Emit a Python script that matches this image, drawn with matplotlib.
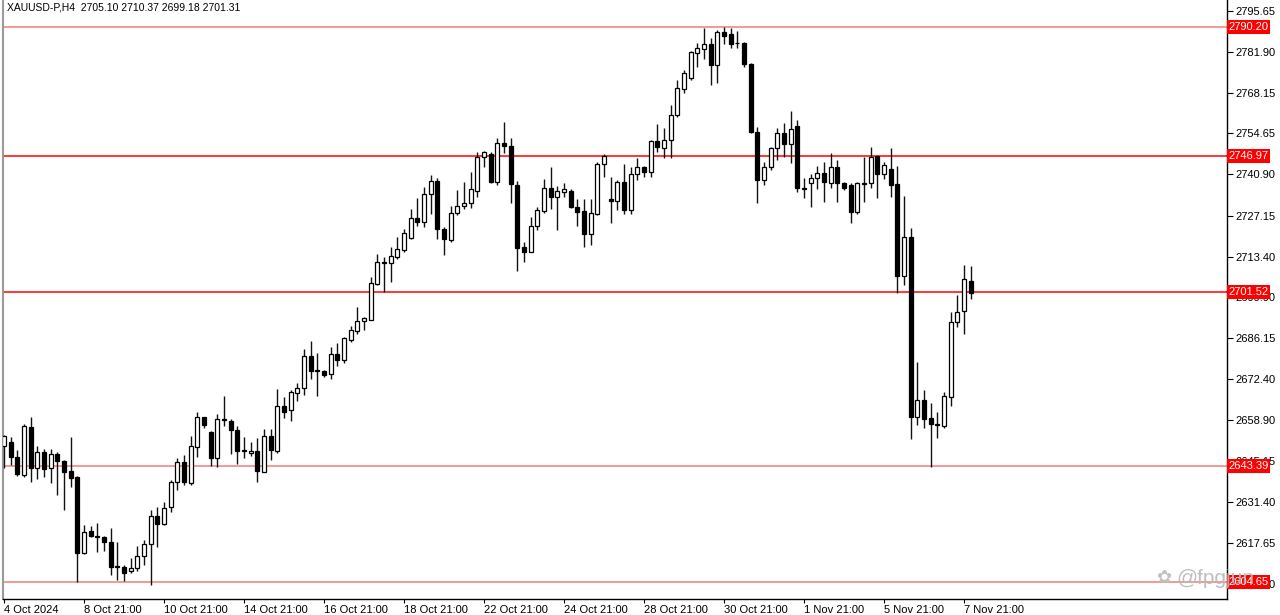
import numpy as np
import matplotlib
matplotlib.use('Agg')
import matplotlib.pyplot as plt
import matplotlib.transforms as mtransforms

plt.rcParams['font.family'] = ['Liberation Sans', 'DejaVu Sans']

# XAUUSD-P H4, OHLC
opens = [2650.1, 2651.3, 2646.3, 2640.4, 2656.6, 2642.6, 2648.0, 2642.6, 2647.4, 2645.2,
         2641.7, 2639.6, 2614.2, 2621.7, 2620.1, 2619.8, 2618.1, 2610.1, 2609.7, 2608.4,
         2609.2, 2613.3, 2617.2, 2626.8, 2624.0, 2629.6, 2637.9, 2644.8, 2637.8, 2649.9,
         2659.7, 2654.9, 2646.0, 2658.8, 2658.6, 2655.4, 2648.6, 2647.6, 2648.5, 2641.5,
         2653.5, 2648.4, 2663.6, 2662.1, 2667.9, 2669.4, 2680.2, 2675.4, 2675.2, 2674.0,
         2681.0, 2679.0, 2685.5, 2688.5, 2692.0, 2692.2, 2704.2, 2711.2, 2711.2, 2713.4,
         2715.6, 2719.7, 2726.2, 2724.9, 2734.4, 2738.8, 2722.6, 2719.0, 2727.9, 2730.4,
         2731.2, 2735.4, 2746.6, 2747.6, 2738.5, 2751.5, 2750.5, 2737.4, 2716.5, 2715.1,
         2723.8, 2728.7, 2736.5, 2733.5, 2735.1, 2735.5, 2729.9, 2728.7, 2721.0, 2727.5,
         2744.3, 2732.6, 2732.1, 2738.5, 2729.0, 2740.9, 2743.5, 2741.6, 2752.1, 2749.6,
         2752.4, 2760.8, 2769.5, 2773.0, 2781.6, 2782.8, 2784.4, 2777.5, 2788.6, 2787.9,
         2785.0, 2785.0, 2777.8, 2755.2, 2739.2, 2743.5, 2749.8, 2754.9, 2751.1, 2757.2,
         2736.4, 2738.1, 2739.6, 2741.3, 2738.1, 2743.5, 2738.1, 2737.4, 2728.4, 2737.7,
         2737.9, 2747.1, 2740.9, 2742.6, 2737.6, 2706.9, 2720.1, 2659.9, 2665.5, 2659.5,
         2657.4, 2656.9, 2666.6, 2691.6, 2695.3, 2705.10]
highs = [2653.8, 2653.0, 2648.8, 2657.3, 2659.7, 2650.2, 2649.0, 2649.0, 2648.2, 2645.4,
         2653.0, 2640.2, 2623.7, 2623.3, 2624.2, 2620.1, 2622.5, 2617.9, 2610.3, 2612.5,
         2616.8, 2618.6, 2628.7, 2629.8, 2631.5, 2638.7, 2646.2, 2647.1, 2653.4, 2661.3,
         2659.9, 2655.1, 2660.7, 2666.9, 2659.1, 2656.9, 2653.2, 2651.3, 2652.6, 2655.8,
         2655.8, 2669.0, 2666.4, 2668.8, 2671.0, 2682.4, 2685.3, 2681.3, 2675.5, 2683.3,
         2684.5, 2686.5, 2690.3, 2696.7, 2693.3, 2706.7, 2714.2, 2713.2, 2716.7, 2720.1,
         2722.6, 2729.2, 2732.9, 2736.8, 2740.7, 2739.6, 2723.2, 2730.4, 2735.7, 2738.5,
         2741.8, 2748.3, 2748.7, 2748.3, 2753.2, 2758.5, 2753.0, 2738.7, 2718.2, 2726.5,
         2730.1, 2739.4, 2743.3, 2737.1, 2737.9, 2735.9, 2732.6, 2732.6, 2732.6, 2745.2,
         2747.7, 2740.1, 2739.0, 2744.4, 2743.5, 2746.3, 2743.7, 2752.4, 2757.6, 2756.5,
         2764.1, 2772.5, 2775.8, 2782.3, 2785.0, 2789.8, 2786.4, 2789.2, 2790.3, 2789.8,
         2788.9, 2785.3, 2778.0, 2756.6, 2745.2, 2750.2, 2756.5, 2758.0, 2762.2, 2759.1,
         2739.6, 2741.0, 2743.7, 2745.2, 2748.0, 2745.7, 2738.5, 2737.9, 2738.5, 2746.8,
         2750.0, 2747.2, 2744.9, 2749.6, 2743.7, 2733.7, 2722.9, 2678.2, 2668.8, 2664.3,
         2661.3, 2668.2, 2695.0, 2700.6, 2710.6, 2710.37]
lows = [2642.6, 2643.7, 2640.1, 2639.6, 2637.9, 2638.9, 2639.6, 2637.8, 2633.7, 2628.7,
        2636.3, 2604.7, 2614.0, 2619.5, 2614.7, 2615.1, 2606.9, 2605.3, 2604.9, 2607.7,
        2608.4, 2610.3, 2603.6, 2616.4, 2623.7, 2628.1, 2635.4, 2637.0, 2637.0, 2646.3,
        2656.0, 2643.5, 2643.2, 2656.8, 2647.4, 2643.9, 2646.0, 2646.8, 2638.1, 2641.3,
        2645.4, 2647.6, 2659.3, 2658.6, 2665.2, 2667.1, 2672.4, 2666.8, 2673.0, 2672.5,
        2677.0, 2678.0, 2685.0, 2687.7, 2688.9, 2692.2, 2703.9, 2701.7, 2704.8, 2712.6,
        2714.8, 2719.3, 2723.8, 2723.4, 2727.7, 2719.3, 2713.9, 2718.4, 2727.3, 2729.3,
        2729.6, 2733.5, 2743.5, 2737.9, 2737.4, 2747.9, 2731.4, 2708.7, 2711.7, 2714.8,
        2722.3, 2727.9, 2729.3, 2722.3, 2733.2, 2729.6, 2723.8, 2716.7, 2717.3, 2727.3,
        2740.1, 2724.5, 2729.0, 2727.7, 2727.7, 2739.0, 2740.1, 2740.1, 2748.5, 2746.3,
        2746.3, 2760.2, 2768.0, 2772.5, 2776.7, 2779.4, 2770.8, 2771.4, 2784.4, 2783.1,
        2783.1, 2776.7, 2754.6, 2731.2, 2737.3, 2742.4, 2745.7, 2746.8, 2744.6, 2735.1,
        2732.9, 2729.9, 2735.9, 2731.8, 2736.2, 2731.6, 2735.7, 2724.5, 2727.7, 2731.6,
        2736.2, 2732.9, 2739.3, 2733.5, 2701.1, 2703.9, 2652.3, 2657.1, 2656.0, 2643.1,
        2652.6, 2656.0, 2663.6, 2690.0, 2687.5, 2699.18]
closes = [2653.4, 2646.3, 2640.7, 2656.8, 2642.6, 2648.0, 2642.4, 2647.4, 2645.2, 2641.5,
          2639.5, 2614.2, 2621.4, 2620.0, 2619.6, 2618.1, 2609.7, 2609.7, 2607.7, 2609.2,
          2613.3, 2617.3, 2626.8, 2623.9, 2629.2, 2637.9, 2644.8, 2637.9, 2650.2, 2659.7,
          2657.1, 2646.0, 2659.1, 2658.7, 2655.4, 2648.4, 2648.5, 2648.5, 2641.7, 2653.5,
          2648.7, 2663.6, 2661.6, 2668.0, 2669.4, 2680.3, 2675.2, 2675.2, 2673.8, 2681.0,
          2679.0, 2686.1, 2688.9, 2692.0, 2692.8, 2704.5, 2711.5, 2711.5, 2713.7, 2715.8,
          2721.2, 2726.2, 2724.9, 2734.4, 2738.8, 2722.6, 2719.3, 2727.9, 2730.4, 2731.2,
          2736.0, 2746.8, 2748.3, 2738.5, 2751.3, 2750.5, 2737.6, 2716.4, 2715.1, 2723.8,
          2729.0, 2736.5, 2733.5, 2735.3, 2735.9, 2729.9, 2728.4, 2721.0, 2727.9, 2744.3,
          2747.1, 2732.1, 2738.5, 2729.0, 2741.0, 2743.5, 2741.8, 2752.1, 2750.0, 2752.4,
          2760.8, 2769.7, 2774.7, 2781.7, 2783.1, 2784.5, 2777.5, 2788.6, 2787.2, 2784.5,
          2784.7, 2777.8, 2755.2, 2739.2, 2743.5, 2749.8, 2754.9, 2751.1, 2756.1, 2736.2,
          2736.0, 2739.6, 2741.3, 2738.5, 2743.5, 2737.9, 2736.2, 2728.4, 2737.9, 2738.1,
          2746.8, 2741.0, 2744.1, 2737.4, 2706.9, 2720.1, 2659.9, 2665.5, 2659.0, 2657.3,
          2657.1, 2666.8, 2691.6, 2695.0, 2705.9, 2701.31]

levels = [2790.20, 2746.97, 2701.52, 2643.39, 2604.65]
level_colors = ['#f47a7a', '#ff0000', '#ff0000', '#f47a7a', '#f47a7a']

price_ticks = [2795.65, 2781.90, 2768.15, 2754.65, 2740.90, 2727.15, 2713.40, 2699.90,
               2686.15, 2672.40, 2658.90, 2645.15, 2631.40, 2617.65, 2603.90]
# one date label every 12 bars
date_ticks = [0, 12, 24, 36, 48, 60, 72, 84, 96, 108, 120, 132, 144]
date_labels = ['4 Oct 2024', '8 Oct 21:00', '10 Oct 21:00', '14 Oct 21:00', '16 Oct 21:00',
               '18 Oct 21:00', '22 Oct 21:00', '24 Oct 21:00', '28 Oct 21:00', '30 Oct 21:00',
               '1 Nov 21:00', '5 Nov 21:00', '7 Nov 21:00']

o = np.array(opens); h = np.array(highs); l = np.array(lows); c = np.array(closes)
idx = np.arange(len(o))
up = c >= o

fig = plt.figure(figsize=(12.8, 6.15), dpi=100)
ax = fig.add_axes([3/1280, 16/615, 1224/1280, 599/615])

# wicks, then bodies
ax.vlines(idx, l, h, color='#111111', lw=1.0, zorder=3)
body_lo = np.minimum(o, c)
body_h = np.maximum(np.abs(c - o), 0.25)
ax.bar(idx[up], body_h[up], bottom=body_lo[up], width=0.62,
       color='white', edgecolor='black', linewidth=0.9, zorder=4)
ax.bar(idx[~up], body_h[~up], bottom=body_lo[~up], width=0.62,
       color='black', edgecolor='black', linewidth=0.9, zorder=4)

for lev, col in zip(levels, level_colors):
    ax.axhline(lev, color=col, lw=1.1, zorder=2)

ax.set_xlim(-0.15, 183.45)
ax.set_ylim(2598.92, 2799.23)

ax.yaxis.tick_right()
ax.set_yticks(price_ticks)
ax.set_yticklabels([f'{v:.2f}' for v in price_ticks])
ax.tick_params(axis='y', direction='out', length=4, width=0.8, labelsize=8, pad=2,
               colors='black')
ax.set_xticks(date_ticks)
ax.set_xticklabels(date_labels)
ax.tick_params(axis='x', direction='out', length=3, width=0.8, labelsize=8, pad=1.5)
for lbl in ax.get_xticklabels():
    lbl.set_ha('left')

ax.spines['top'].set_visible(False)
ax.spines['left'].set_color('#9a9a9a')
ax.spines['left'].set_linewidth(1.5)
for s in ['right', 'bottom']:
    ax.spines[s].set_color('black')
    ax.spines[s].set_linewidth(1.0)

trans = mtransforms.blended_transform_factory(ax.transAxes, ax.transData)
for lev in levels:
    ax.text(1.0012, lev, f'{lev:.2f}', transform=trans, ha='left', va='center',
            color='white', fontsize=8, zorder=10, clip_on=False,
            bbox=dict(boxstyle='square,pad=0.16', fc='#ff0000', ec='none'))

ax.text(0.003, 0.988, 'XAUUSD-P,H4  2705.10 2710.37 2699.18 2701.31',
        transform=ax.transAxes, ha='left', va='center', fontsize=7.5, color='black')

fig.text(1156/1280, 1 - 578/615, '\u273f', ha='left', va='center',
         fontsize=13, color='#c0c0c0', family=['DejaVu Sans'], zorder=20)
fig.text(1176/1280, 1 - 578/615, '@fpgjun', ha='left', va='center',
         fontsize=15, color='#b8b8b8', alpha=0.9, zorder=20)

fig.savefig('out.png', dpi=100, facecolor='white')
